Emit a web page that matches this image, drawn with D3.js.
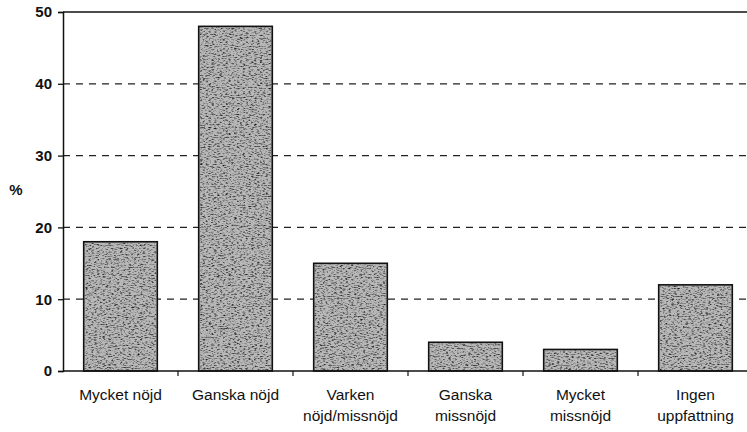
<!DOCTYPE html>
<html><head><meta charset="utf-8">
<script src="https://cdn.jsdelivr.net/npm/d3@7/dist/d3.min.js"></script>
<style>body{margin:0;background:#fff}svg{display:block}text{font-family:"Liberation Sans",Arial,sans-serif;fill:#111}</style>
</head><body><svg id="c" width="747" height="432"></svg>
<script>
const categories = [["Mycket nöjd"],["Ganska nöjd"],["Varken","nöjd/missnöjd"],["Ganska","missnöjd"],["Mycket","missnöjd"],["Ingen","uppfattning"]];
const values = [18, 48, 15, 4, 3, 12];
const yTicks = [0, 10, 20, 30, 40, 50];

const svg = d3.select("#c");
const m = {l: 63, t: 12, b: 61};
const W = 690, H = 432 - m.t - m.b;
const g = svg.append("g").attr("transform", `translate(${m.l},${m.t})`);
const x = d3.scaleBand().domain(d3.range(categories.length)).range([0, W]).paddingInner(0.36).paddingOuter(0.18);
const y = d3.scaleLinear().domain([0, 50]).range([H, 0]);

const defs = svg.append("defs");
const f = defs.append("filter").attr("id","tex").attr("x",0).attr("y",0).attr("width",1).attr("height",1);
f.append("feTurbulence").attr("type","fractalNoise").attr("baseFrequency","0.35 0.9").attr("numOctaves",2).attr("seed",3).attr("result","n");
f.append("feColorMatrix").attr("in","n").attr("type","matrix")
 .attr("values","0 0 0 0 0  0 0 0 0 0  0 0 0 0 0  0 0 0 -2.2 1.15").attr("result","a");
f.append("feComposite").attr("in","a").attr("in2","SourceGraphic").attr("operator","in");

// gridlines
g.append("g").selectAll("line").data(yTicks.filter(d => d > 0 && d < 50)).join("line")
  .attr("x1", 0).attr("x2", W).attr("y1", d => y(d)).attr("y2", d => y(d))
  .attr("stroke", "#222").attr("stroke-width", 1.2).attr("stroke-dasharray", "7,6");
// top border
g.append("line").attr("x1",0).attr("x2",W).attr("y1",y(50)).attr("y2",y(50)).attr("stroke","#111").attr("stroke-width",1.5);

// bars
const bars = g.append("g");
bars.selectAll("rect.b").data(values).join("rect").attr("class","b")
  .attr("x", (d,i) => x(i)).attr("width", x.bandwidth())
  .attr("y", d => y(d)).attr("height", d => H - y(d))
  .attr("fill", "#b8b8b8").attr("stroke", "#111").attr("stroke-width", 1.6);
bars.selectAll("rect.t").data(values).join("rect").attr("class","t")
  .attr("x", (d,i) => x(i)+1).attr("width", x.bandwidth()-2)
  .attr("y", d => y(d)+1).attr("height", d => H - y(d)-2)
  .attr("fill", "#333").attr("filter","url(#tex)");

// y axis
const ya = g.append("g").call(d3.axisLeft(y).tickValues(yTicks).tickSize(5).tickPadding(6).tickFormat(d3.format("d")));
ya.select(".domain").attr("stroke","#111").attr("stroke-width",1.5);
ya.selectAll(".tick line").attr("stroke","#111").attr("stroke-width",1.3);
ya.selectAll("text").attr("font-size", 15).attr("font-weight","bold").attr("fill","#111");

// x axis
const step = x.step();
const xa = g.append("g").attr("transform", `translate(0,${H})`);
xa.append("line").attr("x1",0).attr("x2",W).attr("stroke","#111").attr("stroke-width",1.5);
xa.selectAll("line.tk").data(d3.range(1, categories.length)).join("line").attr("class","tk")
  .attr("x1", i => x(i) - step*0.36/2).attr("x2", i => x(i) - step*0.36/2).attr("y1",0).attr("y2",5)
  .attr("stroke","#111").attr("stroke-width",1.2);
xa.selectAll("text.cl").data(categories).join("text").attr("class","cl")
  .attr("x", (d,i) => x(i) + x.bandwidth()/2).attr("y", 29)
  .attr("text-anchor","middle").attr("font-size",15.5)
  .each(function(d){ const cx = d3.select(this).attr("x");
     d3.select(this).selectAll("tspan").data(d).join("tspan")
     .attr("x", cx).attr("dy",(t,j)=> j ? 21 : 0).text(t => t); });

svg.append("text").attr("x", 16).attr("y", 195).attr("text-anchor","middle").attr("font-size",15).attr("font-weight","bold").text("%");
</script></body></html>
